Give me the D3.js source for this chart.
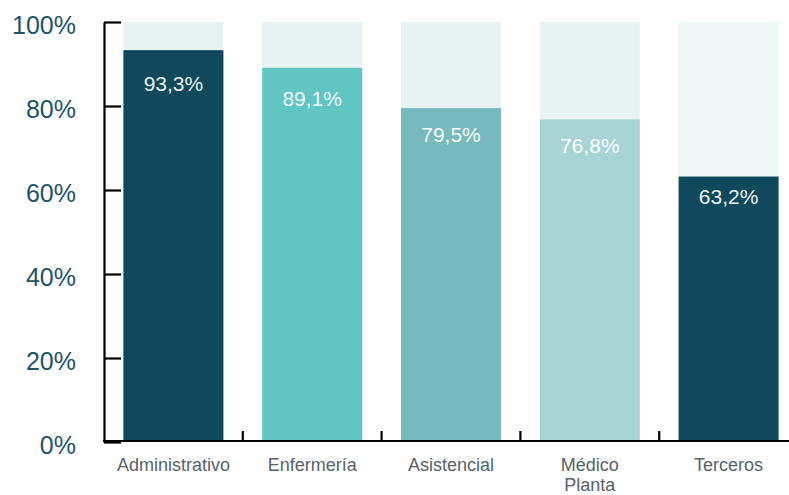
<!DOCTYPE html>
<html lang="es">
<head>
<meta charset="utf-8">
<script src="https://cdn.jsdelivr.net/npm/d3@7"></script>
<style>
  html, body { margin: 0; padding: 0; background: #ffffff; }
  svg { display: block; font-family: "Liberation Sans", Arial, Helvetica, sans-serif; }
</style>
</head>
<body>
<svg id="chart" width="789" height="495"></svg>
<script>
// Porcentaje por colectivo
const categories = ["Administrativo", "Enfermería", "Asistencial", "Médico Planta", "Terceros"];
const values = [93.3, 89.1, 79.5, 76.8, 63.2];
const yTicks = [0, 20, 40, 60, 80, 100];

// Colores de barra y de fondo (pista hasta el 100%)
const barColors = ["#10495c", "#5fc6c3", "#77babd", "#a8d4d4", "#10495c"];
const trackColors = ["#e8f2f3", "#e8f2f3", "#e8f2f3", "#e8f2f3", "#f0f7f7"];

const svg = d3.select("#chart");
const plotLeft = 104, plotTop = 22, plotBottom = 442, plotRight = 798;

const x = d3.scaleBand()
  .domain(categories)
  .range([plotLeft, plotRight])
  .paddingInner(0.2795)
  .paddingOuter(0.2795 / 2);

const y = d3.scaleLinear().domain([0, 100]).range([plotBottom, plotTop]);

const barColor = d3.scaleOrdinal(categories, barColors);
const trackColor = d3.scaleOrdinal(categories, trackColors);

const data = categories.map((c, i) => ({ cat: c, value: values[i] }));

// Fondo de cada barra hasta el 100%
svg.append("g").selectAll("rect")
  .data(data)
  .join("rect")
  .attr("x", d => x(d.cat))
  .attr("width", x.bandwidth())
  .attr("y", y(100))
  .attr("height", y(0) - y(100))
  .attr("fill", d => trackColor(d.cat));

// Barras de valor
svg.append("g").selectAll("rect")
  .data(data)
  .join("rect")
  .attr("x", d => x(d.cat))
  .attr("width", x.bandwidth())
  .attr("y", d => y(d.value))
  .attr("height", d => y(0) - y(d.value))
  .attr("fill", d => barColor(d.cat));

// Etiquetas de valor dentro de la barra, cerca del extremo superior
const fmt = v => v.toFixed(1).replace(".", ",") + "%";
svg.append("g").selectAll("text")
  .data(data)
  .join("text")
  .attr("x", d => x(d.cat) + x.bandwidth() / 2)
  .attr("y", d => y(d.value * 0.897))
  .attr("text-anchor", "middle")
  .attr("font-size", 21)
  .attr("fill", "#ffffff")
  .attr("fill-opacity", 0.95)
  .text(d => fmt(d.value));

// Eje Y
const yAxis = svg.append("g")
  .attr("transform", `translate(${plotLeft},0)`)
  .call(d3.axisLeft(y)
    .tickValues(yTicks)
    .tickFormat(d => d + "%")
    .tickSize(-17)
    .tickSizeOuter(0)
    .tickPadding(28));
yAxis.select(".domain").attr("stroke", "#000").attr("stroke-width", 2.2);
yAxis.selectAll(".tick line").attr("stroke", "#000").attr("stroke-width", 2.2);
yAxis.selectAll(".tick text")
  .attr("font-size", 25)
  .attr("font-family", "\"Liberation Sans\", Arial, sans-serif")
  .attr("fill", "#1b5369")
  .attr("dy", "0.45em");

// Eje X: línea base con marcas entre categorías
const gap = x.step() * x.paddingInner();
const xAxis = svg.append("g");
xAxis.append("line")
  .attr("x1", plotLeft - 1).attr("x2", 789)
  .attr("y1", y(0) - 1).attr("y2", y(0) - 1)
  .attr("stroke", "#000").attr("stroke-width", 2.2);
xAxis.selectAll(".sep")
  .data(categories.slice(1))
  .join("line")
  .attr("class", "sep")
  .attr("x1", d => x(d) - gap / 2)
  .attr("x2", d => x(d) - gap / 2)
  .attr("y1", y(0) - 1)
  .attr("y2", y(0) - 11)
  .attr("stroke", "#000").attr("stroke-width", 2.2);

// Rótulos de categoría (partidos por palabras)
const labels = xAxis.selectAll(".cat")
  .data(categories)
  .join("text")
  .attr("class", "cat")
  .attr("text-anchor", "middle")
  .attr("font-size", 18)
  .attr("fill", "#56626a")
  .attr("y", 471);
labels.each(function(d) {
  const words = d.split(" ");
  d3.select(this).selectAll("tspan")
    .data(words)
    .join("tspan")
    .attr("x", x(d) + x.bandwidth() / 2)
    .attr("dy", (w, i) => i === 0 ? 0 : 20)
    .text(w => w);
});
</script>
</body>
</html>
